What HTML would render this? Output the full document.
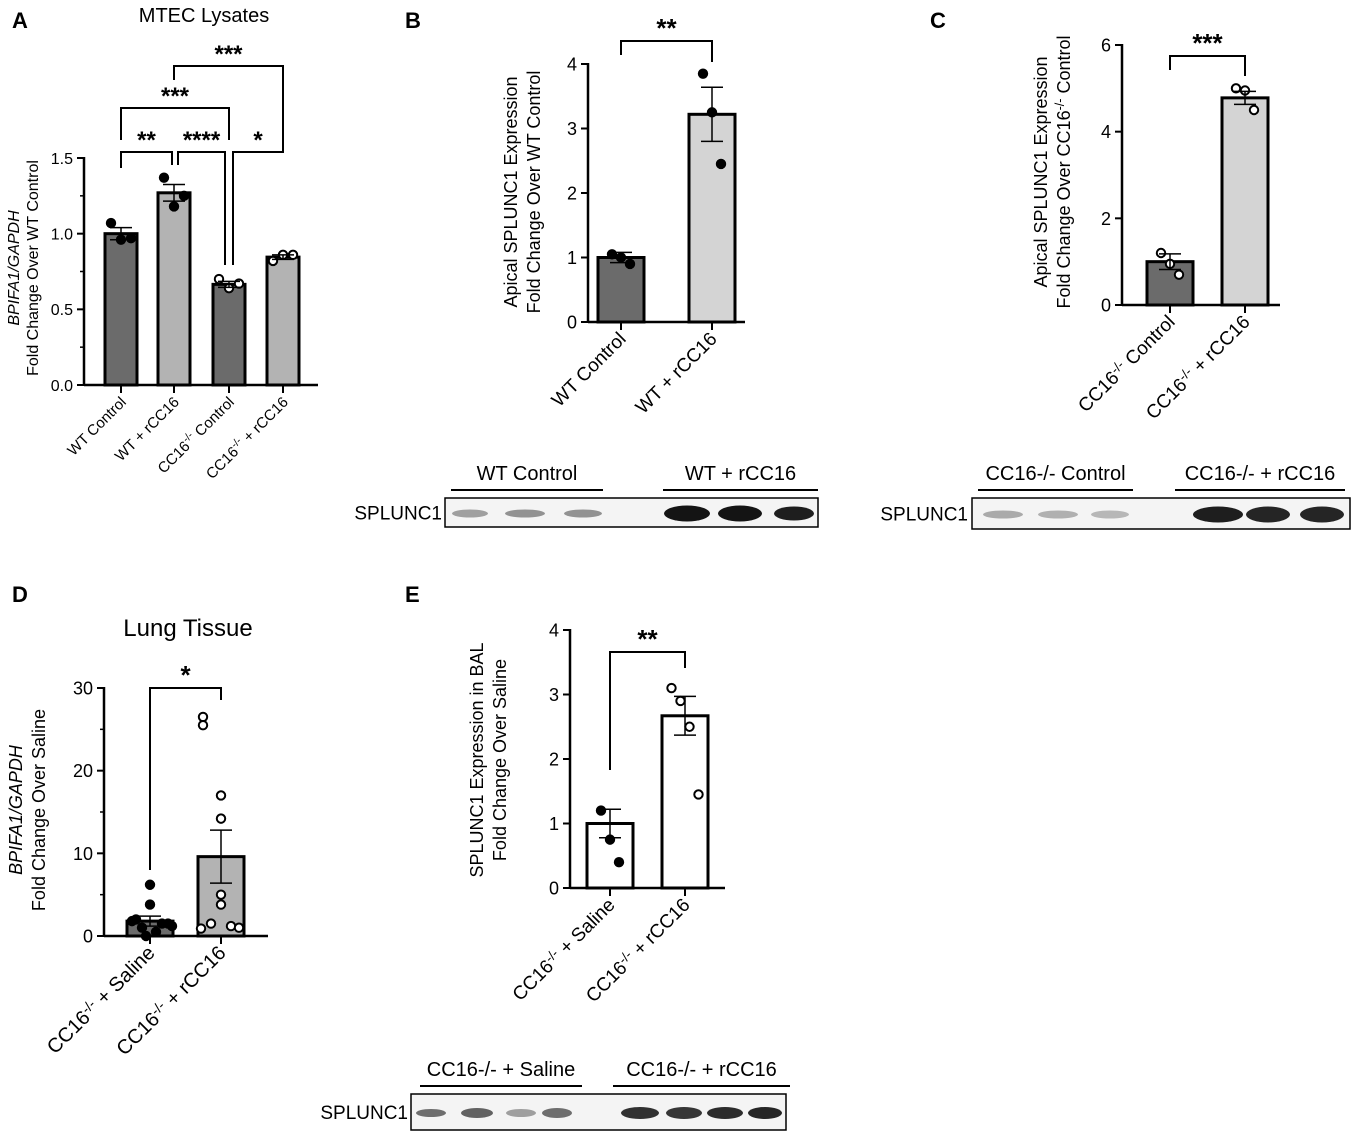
<!DOCTYPE html>
<html><head><meta charset="utf-8"><style>
body{margin:0;background:#fff}
svg{display:block;font-family:"Liberation Sans",Arial,sans-serif}
</style></head><body>
<svg id="fig" width="1358" height="1138" viewBox="0 0 1358 1138">
<g id="static">
<text x="12" y="28" font-size="22" font-weight="bold">A</text>
<text x="405" y="28" font-size="22" font-weight="bold">B</text>
<text x="930" y="28" font-size="22" font-weight="bold">C</text>
<text x="12" y="602" font-size="22" font-weight="bold">D</text>
<text x="405" y="602" font-size="22" font-weight="bold">E</text>
<text x="204" y="22" font-size="20" text-anchor="middle">MTEC Lysates</text>
<text x="188" y="636" font-size="24" text-anchor="middle">Lung Tissue</text>
</g>
<g id="plots"></g>
</svg>
<script>
// Panel A data
const catsA=["WT Control","WT + rCC16","CC16-/- Control","CC16-/- + rCC16"];
const meansA=[1.0,1.27,0.665,0.845];
const semA=[0.04,0.055,0.02,0.015];
const ptsA=[[1.07,0.96,0.97],[1.37,1.18,1.25],[0.70,0.64,0.67],[0.82,0.86,0.86]];
const ticksA=[0,0.5,1.0,1.5];
// Panel B data
const meansB=[1.0,3.22];
const semB=[0.08,0.42];
const ptsB=[[1.05,1.0,0.9],[3.85,3.25,2.45]];
const ticksB=[0,1,2,3,4];
// Panel C data
const meansC=[1.0,4.78];
const semC=[0.18,0.15];
const ptsC=[[1.2,0.95,0.7],[5.0,4.95,4.5]];
const ticksC=[0,2,4,6];
// Panel D data
const meansD=[1.8,9.6];
const semD=[0.6,3.2];
const ptsD=[[6.2,3.8,2.0,1.5,1.0,0.5,0.0,1.5,1.8,1.2],[26.5,25.5,17,14.2,5,3.8,1.5,1.2,1.0,0.9]];
const ticksD=[0,10,20,30];
// Panel E data
const meansE=[1.0,2.67];
const semE=[0.22,0.3];
const ptsE=[[1.2,0.75,0.4],[3.1,2.9,2.5,1.45]];
const ticksE=[0,1,2,3,4];
// horizontal jitter offsets (px) for D points
const jitD=[[0,0,-14,18,-8,6,-4,12,-18,22],[-18,-18,0,0,0,0,-10,10,18,-20]];

const NS="http://www.w3.org/2000/svg";
const root=document.getElementById('plots');
function mk(tag,attrs,parent,name){const e=document.createElementNS(NS,tag);for(const k in attrs)e.setAttribute(k,attrs[k]);


(parent||root).appendChild(e);return e;}

function panel(cfg){
 const g=mk('g',{},root,cfg.name);
 const y=v=>cfg.y0-(v-cfg.ymin)/(cfg.ymax-cfg.ymin)*(cfg.y0-cfg.ytop);
 const x=i=>cfg.xs[i];
 cfg.means.forEach((m,i)=>{
  mk('rect',{x:x(i)-cfg.bw/2,y:y(m),width:cfg.bw,height:cfg.y0-y(m),fill:cfg.fills[i],stroke:'#000','stroke-width':3},g,'bar-'+(i+1));
 });
 cfg.pts.forEach((arr,i)=>{
  const n=arr.length;
  arr.forEach((v,j)=>{
   const off=cfg.jits?cfg.jits[i][j]:(j-(n-1)/2)*(cfg.jit||9);
   const open=cfg.open[i];
   mk('circle',{cx:x(i)+off,cy:y(v),r:4.2,fill:open?'#fff':'#000',stroke:'#000','stroke-width':2},g,'point');
  });
 });
 cfg.means.forEach((m,i)=>{
  const t=y(m+cfg.sem[i]),b=y(m-cfg.sem[i]);
  mk('line',{x1:x(i),x2:x(i),y1:t,y2:b,stroke:'#000','stroke-width':1.5},g,'error-bar');
  mk('line',{x1:x(i)-11,x2:x(i)+11,y1:t,y2:t,stroke:'#000','stroke-width':1.5},g,'error-cap');
  mk('line',{x1:x(i)-11,x2:x(i)+11,y1:b,y2:b,stroke:'#000','stroke-width':1.5},g,'error-cap');
 });
 mk('line',{x1:cfg.ax,x2:cfg.ax,y1:cfg.ytop-1,y2:cfg.y0+1,stroke:'#000','stroke-width':2.5},g,'y-axis');
 mk('line',{x1:cfg.ax,x2:cfg.xend,y1:cfg.y0,y2:cfg.y0,stroke:'#000','stroke-width':2.5},g,'x-axis');
 cfg.ticks.forEach((t,k)=>{
  mk('line',{x1:cfg.ax-7,x2:cfg.ax,y1:y(t),y2:y(t),stroke:'#000','stroke-width':2},g,'y-tick');
  const tx=mk('text',{x:cfg.ax-11,y:y(t)+cfg.fs*0.36,'font-size':cfg.fs,'text-anchor':'end'},g,'y-tick-label');
  tx.textContent=cfg.tickFmt?cfg.tickFmt(t):t;
  if(cfg.minor&&k<cfg.ticks.length-1){const mv=(t+cfg.ticks[k+1])/2;
   mk('line',{x1:cfg.ax-4,x2:cfg.ax,y1:y(mv),y2:y(mv),stroke:'#000','stroke-width':1.5},g,'y-minor-tick');}
 });
 cfg.xs.forEach((xx,i)=>{
  mk('line',{x1:xx,x2:xx,y1:cfg.y0,y2:cfg.y0+8,stroke:'#000','stroke-width':2},g,'x-tick');
  const tx=mk('text',{transform:`translate(${xx+6},${cfg.y0+18}) rotate(-45)`,'font-size':cfg.xfs,'text-anchor':'end'},g,'x-tick-label');
  tx.innerHTML=cfg.xl[i];
 });
 cfg.ylab.forEach((l,k)=>{
  const tx=mk('text',{transform:`translate(${cfg.ylx+k*cfg.yld},${cfg.yly}) rotate(-90)`,'font-size':cfg.yfs,'text-anchor':'middle'},g,'y-axis-title');
  tx.innerHTML=l;
 });
 (cfg.brackets||[]).forEach(bk=>{
  const [a,b,by,da,db,lab]=bk;
  mk('polyline',{points:`${a},${da} ${a},${by} ${b},${by} ${b},${db}`,fill:'none',stroke:'#000','stroke-width':2},g,'significance-bracket');
  const tx=mk('text',{x:(a+b)/2,y:by-4,'font-size':cfg.sfs||24,'font-weight':'bold','text-anchor':'middle'},g,'significance-stars');
  tx.textContent=lab;
 });
}
const sup='CC16<tspan font-size="0.7em" dy="-6">-/-</tspan><tspan dy="6"> </tspan>';
panel({name:'panel-a',ax:84,xend:318,y0:385,ytop:158,ymin:0,ymax:1.5,xs:[121,174,229,283],bw:32,
 fills:['#6b6b6b','#b3b3b3','#6b6b6b','#b3b3b3'],means:meansA,sem:semA,pts:ptsA,open:[0,0,1,1],ticks:ticksA,
 tickFmt:t=>t.toFixed(1),minor:true,fs:16,xfs:15,jit:10,
 xl:['WT Control','WT + rCC16',sup+'Control',sup+'+ rCC16'],
 ylab:['<tspan font-style="italic">BPIFA1/GAPDH</tspan>','Fold Change Over WT Control'],ylx:19,yld:19,yly:268,yfs:16,
 brackets:[[121,172,152,168,165,'**'],[178,225,152,165,265,'****'],[233,283,152,265,140,'*'],[121,229,108,140,140,'***'],[174,283,66,80,140,'***']],sfs:24});
panel({name:'panel-b',ax:588,xend:745,y0:322,ytop:64,ymin:0,ymax:4,xs:[621,712],bw:46,fills:['#6b6b6b','#d4d4d4'],
 means:meansB,sem:semB,pts:ptsB,open:[0,0],ticks:ticksB,minor:false,fs:18,xfs:19,
 xl:['WT Control','WT + rCC16'],ylab:['Apical SPLUNC1 Expression','Fold Change Over WT Control'],ylx:517,yld:23,yly:192,yfs:18,
 brackets:[[621,712,41,55,62,'**']],sfs:26});
panel({name:'panel-c',ax:1122,xend:1280,y0:305,ytop:45,ymin:0,ymax:6,xs:[1170,1245],bw:46,fills:['#6b6b6b','#d4d4d4'],
 means:meansC,sem:semC,pts:ptsC,open:[1,1],ticks:ticksC,minor:false,fs:18,xfs:19,
 xl:[sup+'Control',sup+'+ rCC16'],ylab:['Apical SPLUNC1 Expression','Fold Change Over CC16<tspan font-size="0.7em" dy="-6">-/-</tspan><tspan dy="6"> Control</tspan>'],ylx:1047,yld:23,yly:172,yfs:18,
 brackets:[[1170,1245,56,70,76,'***']],sfs:26});
panel({name:'panel-d',ax:104,xend:268,y0:936,ytop:688,ymin:0,ymax:30,xs:[150,221],bw:46,fills:['#6b6b6b','#b3b3b3'],
 means:meansD,sem:semD,pts:ptsD,open:[0,1],ticks:ticksD,minor:true,fs:18,xfs:20,jits:jitD,
 xl:[sup+'+ Saline',sup+'+ rCC16'],ylab:['<tspan font-style="italic">BPIFA1/GAPDH</tspan>','Fold Change Over Saline'],ylx:22,yld:23,yly:810,yfs:18,
 brackets:[[150,221,688,870,700,'*']],sfs:26});
panel({name:'panel-e',ax:570,xend:725,y0:888,ytop:630,ymin:0,ymax:4,xs:[610,685],bw:46,fills:['#fff','#fff'],
 means:meansE,sem:semE,pts:ptsE,open:[0,1],ticks:ticksE,minor:false,fs:18,xfs:19,
 xl:[sup+'+ Saline',sup+'+ rCC16'],ylab:['SPLUNC1 Expression in BAL','Fold Change Over Saline'],ylx:483,yld:23,yly:760,yfs:18,
 brackets:[[610,685,652,770,668,'**']],sfs:26});

function blot(name,x,y,w,h,labX,bands,labels){
 const g=mk('g',{},root,name);
 mk('rect',{x:x,y:y,width:w,height:h,fill:'#f4f4f4',stroke:'#000','stroke-width':1.5},g,'blot-frame');
 bands.forEach(b=>{
  mk('ellipse',{cx:b[0],cy:y+h/2+1,rx:b[1],ry:b[2],fill:'#000','fill-opacity':b[3]},g,'blot-band');
 });
 const t=mk('text',{x:labX,y:y+h/2+7,'font-size':19,'text-anchor':'end'},g,'blot-row-label');t.textContent='SPLUNC1';
 labels.forEach(l=>{
  mk('line',{x1:l[0],x2:l[1],y1:y-8,y2:y-8,stroke:'#000','stroke-width':2},g,'lane-group-line');
  const tx=mk('text',{x:(l[0]+l[1])/2,y:y-18,'font-size':20,'text-anchor':'middle'},g,'lane-group-label');tx.textContent=l[2];
 });
}
blot('blot-b',445,498,373,29,442,[[470,18,4,.35],[525,20,4,.4],[583,19,4,.4],[687,23,8,.92],[740,22,8,.92],[794,20,7,.88]],
 [[451,603,'WT Control'],[663,818,'WT + rCC16']]);
blot('blot-c',972,498,378,31,968,[[1003,20,4,.3],[1058,20,4,.28],[1110,19,4,.25],[1218,25,8,.88],[1268,22,8,.85],[1322,22,8,.85]],
 [[978,1133,'CC16-/- Control'],[1175,1345,'CC16-/- + rCC16']]);
blot('blot-e',411,1094,375,36,408,[[431,15,4,.55],[477,16,5,.6],[521,15,4,.35],[557,15,5,.55],[640,19,6,.8],[684,18,6,.78],[725,18,6,.82],[765,17,6,.85]],
 [[420,582,'CC16-/- + Saline'],[613,790,'CC16-/- + rCC16']]);
</script>
</body></html>
